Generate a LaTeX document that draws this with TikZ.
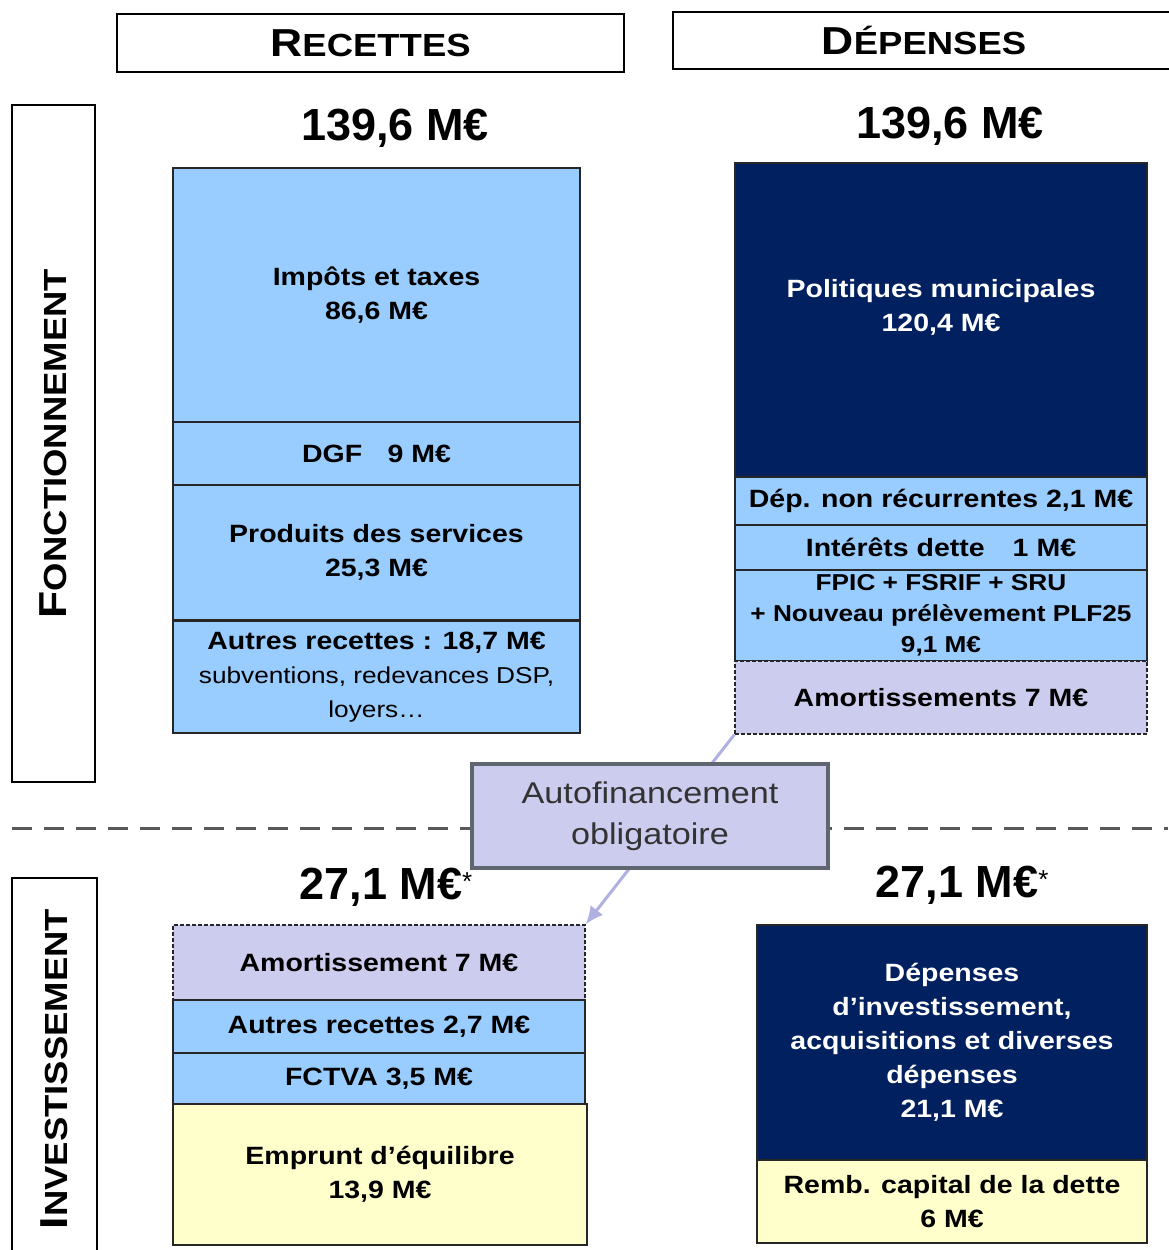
\documentclass[tikz,border=0pt]{standalone}
\usepackage{fontspec}
\setmainfont{Liberation Sans}[FakeStretch=1.14]
\newfontfamily\numfont{Liberation Sans}
\usetikzlibrary{arrows.meta}

\definecolor{bleuclair}{RGB}{153,204,255}
\definecolor{marine}{RGB}{0,32,96}
\definecolor{lavande}{RGB}{204,204,238}
\definecolor{jaune}{RGB}{255,255,204}
\definecolor{grisbord}{RGB}{95,102,112}
\definecolor{violetfleche}{RGB}{176,176,226}

% grande initiale + petites capitales
\newcommand{\initcaps}[2]{{\fontsize{39}{39}\selectfont #1}{\fontsize{32}{32}\selectfont #2}}
\newcommand{\etoile}{\raisebox{9pt}{\fontsize{26}{26}\selectfont\mdseries *}}
\newcommand{\detail}{\mdseries\fontsize{23}{31}\selectfont}

\begin{document}
\begin{tikzpicture}[x=1pt,y=-1pt,
  poste/.style={draw=black!85, line width=1.2pt, inner sep=0pt, align=center,
    font=\fontsize{25}{34}\selectfont\bfseries},
  bleu/.style={poste, fill=bleuclair},
  fonce/.style={poste, fill=marine, text=white},
  amort/.style={poste, fill=lavande, dash pattern=on 4pt off 2pt},
  jaunebox/.style={poste, fill=jaune},
  titre/.style={draw, line width=1.6pt, inner sep=0pt, font=\bfseries},
  total/.style={font=\numfont\fontsize{45}{45}\selectfont\bfseries}]

\useasboundingbox (0,0) rectangle (1168,1250);

% en-tetes
\node[titre, minimum width=507, minimum height=58] (recettes) at (370.5,43) {\initcaps{R}{ECETTES}};
\node[titre, minimum width=502, minimum height=57] (depenses) at (924,40.5) {\initcaps{D}{ÉPENSES}};

% sections
\node[titre, rotate=90, minimum width=677, minimum height=83] (fonct) at (53.5,443.5) {\initcaps{F}{ONCTIONNEMENT}};
\node[titre, rotate=90, minimum width=382, minimum height=85] (invest) at (54.5,1069) {\initcaps{I}{NVESTISSEMENT}};

% totaux
\node[total] (totRF) at (395,128) {139,6 M€};
\node[total] (totDF) at (950,126) {139,6 M€};
\node[total] (totRI) at (386,887) {27,1 M€\etoile};
\node[total] (totDI) at (962,885) {27,1 M€\etoile};

% recettes de fonctionnement
\node[bleu, minimum width=407, minimum height=254] (impots) at (376.5,295) {Impôts et taxes\\86,6 M€};
\node[bleu, minimum width=407, minimum height=63] (dgf) at (376.5,453.5) {DGF\hspace{0.7em} 9 M€};
\node[bleu, minimum width=407, minimum height=135] (produits) at (376.5,552.5) {Produits des services\\25,3 M€};
\node[bleu, minimum width=407, minimum height=112] (autres) at (376.5,677)
  {Autres recettes : 18,7 M€\\\detail subventions, redevances DSP,\\\detail loyers…};

% depenses de fonctionnement
\node[fonce, minimum width=412, minimum height=314] (politiques) at (941,320) {};
\node[poste, draw=none, text=white] (politiquesTxt) at ([yshift=13]politiques.center) {Politiques municipales\\120,4 M€};
\node[bleu, minimum width=412, minimum height=48] (depnr) at (941,501) {Dép. non récurrentes 2,1 M€};
\node[bleu, minimum width=412, minimum height=45] (interets) at (941,547.5) {Intérêts dette\hspace{0.8em} 1 M€};
\node[bleu, minimum width=412, minimum height=91, font=\fontsize{23}{31}\selectfont\bfseries] (fpic) at (941,615.5)
  {FPIC + FSRIF + SRU\\+ Nouveau prélèvement PLF25\\9,1 M€};
\node[amort, minimum width=412, minimum height=73] (amortF) at (941,697.5) {Amortissements 7 M€};

% recettes d'investissement
\node[amort, minimum width=412, minimum height=75] (amortI) at (379,962.5) {Amortissement 7 M€};
\node[bleu, minimum width=412, minimum height=53] (autresI) at (379,1026.5) {Autres recettes 2,7 M€};
\node[bleu, minimum width=412, minimum height=51] (fctva) at (379,1078.5) {FCTVA 3,5 M€};
\node[jaunebox, minimum width=414, minimum height=141] (emprunt) at (380,1174.5) {Emprunt d’équilibre\\13,9 M€};

% depenses d'investissement
\node[fonce, minimum width=390, minimum height=235] (depinv) at (952,1042.5)
  {Dépenses\\d’investissement,\\acquisitions et diverses\\dépenses\\21,1 M€};
\node[jaunebox, minimum width=390, minimum height=83] (remb) at (952,1201.5) {Remb. capital de la dette\\6 M€};

% separation et autofinancement
\coordinate (sepG) at (12,828);
\coordinate (sepD) at (1168,828);
\draw[black!65, line width=3pt, dash pattern=on 20pt off 12pt] (sepG) -- (sepD);
\draw[violetfleche, line width=3pt, -{Latex[length=18pt,width=16pt]}] (amortF.south west) -- (amortI.north east);
\node[draw=grisbord, line width=4pt, fill=lavande, minimum width=356, minimum height=104, align=center,
  font=\fontsize{30}{41}\selectfont, text=black!80] (autofin) at (650,816) {Autofinancement\\obligatoire};

\end{tikzpicture}
\end{document}
